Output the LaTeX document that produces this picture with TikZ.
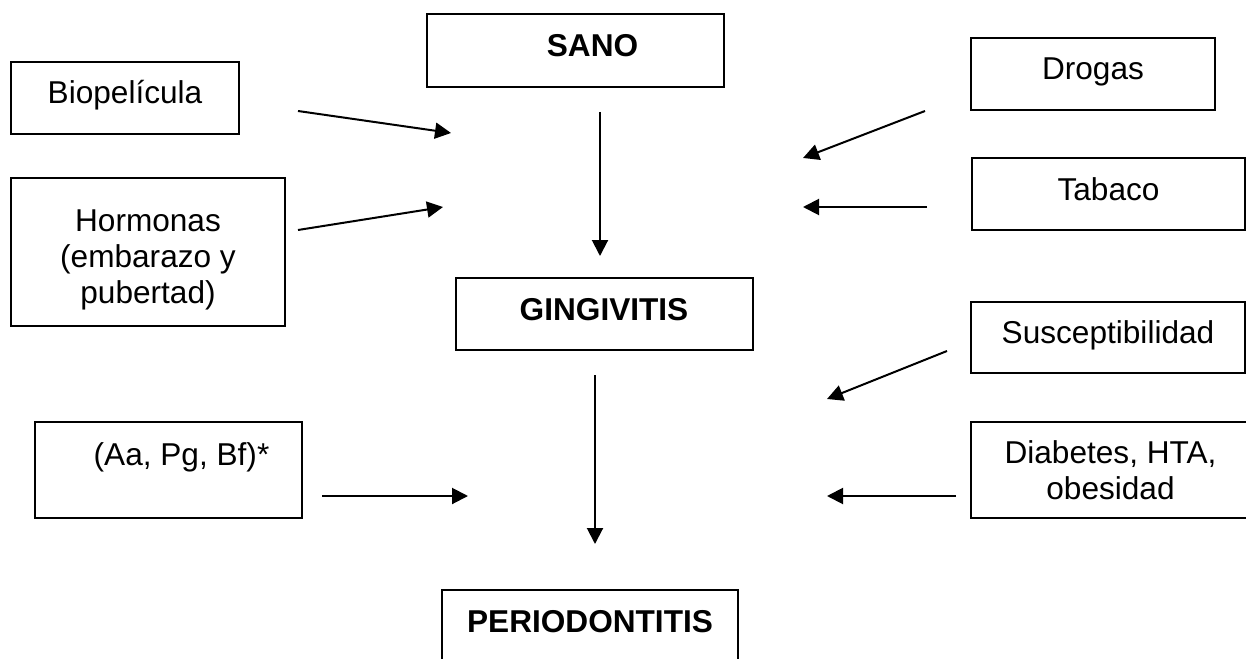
\documentclass[tikz,border=0pt]{standalone}
\usepackage{fontspec}
\setmainfont{Liberation Sans}
\usetikzlibrary{arrows.meta,positioning}

\begin{document}
\begin{tikzpicture}[
    x=0.5pt, y=-0.5pt,
    factorbox/.style={rectangle, draw=black, line width=1pt, inner sep=0pt, align=center, font=\fontsize{15.8pt}{18pt}\selectfont},
    stagebox/.style={factorbox, font=\fontsize{15.8pt}{18pt}\selectfont\bfseries},
    oneline/.style={text height=11pt, text depth=5pt},
    arrow/.style={line width=1pt, -{Triangle[length=8pt,width=8pt]}}
]
\useasboundingbox (0,0) rectangle (1246,658);

% Stages
\node[stagebox, oneline, minimum width=148.5pt, minimum height=36.5pt] (sano) at (575.5,50.5) {\hspace*{17pt}SANO};
\node[stagebox, oneline, minimum width=148.5pt, minimum height=36pt] (ging) at (604,314) {GINGIVITIS};
\node[stagebox, oneline, minimum width=148pt, minimum height=36pt] (perio) at (590,626) {PERIODONTITIS};

% Factors on the left
\node[factorbox, oneline, minimum width=114pt, minimum height=36pt] (bio) at (125,98) {Biopelícula};
\node[factorbox, minimum width=137pt, minimum height=74pt] (horm) at (148,252) {\rule{0pt}{19pt}Hormonas\\(embarazo y\\pubertad)};
\node[factorbox, text height=11pt, text depth=16pt, minimum width=133.5pt, minimum height=48pt] (aa) at (168.5,470) {\hspace*{13pt}(Aa, Pg, Bf)*};

% Factors on the right
\node[factorbox, oneline, minimum width=122pt, minimum height=36pt] (drog) at (1093,74) {Drogas};
\node[factorbox, oneline, minimum width=136.5pt, minimum height=36pt] (taba) at (1108.5,194) {Tabaco};
\node[factorbox, oneline, minimum width=137pt, minimum height=35.5pt] (susc) at (1108,337.5) {Susceptibilidad};
\node[factorbox, minimum width=139.5pt, minimum height=48pt] (diab) at (1110.5,470) {Diabetes, HTA,\\obesidad};

% Arrow ends
\coordinate (bioA) at (298,111);   \coordinate (bioB) at (451,133);
\coordinate (hormA) at (298,230);  \coordinate (hormB) at (443,207);
\coordinate (aaA) at (322,496);    \coordinate (aaB) at (468,496);
\coordinate (drogA) at (925,111);  \coordinate (drogB) at (803,158);
\coordinate (tabaA) at (927,207);  \coordinate (tabaB) at (803,207);
\coordinate (suscA) at (947,351);  \coordinate (suscB) at (827,399);
\coordinate (diabA) at (956,496);  \coordinate (diabB) at (827,496);
\coordinate (sanoA) at (600,112);  \coordinate (sanoB) at (600,256);
\coordinate (gingA) at (595,375);  \coordinate (gingB) at (595,544);

% Arrows
\draw[arrow] (bioA) -- (bioB);
\draw[arrow] (hormA) -- (hormB);
\draw[arrow] (aaA) -- (aaB);
\draw[arrow] (drogA) -- (drogB);
\draw[arrow] (tabaA) -- (tabaB);
\draw[arrow] (suscA) -- (suscB);
\draw[arrow] (diabA) -- (diabB);
\draw[arrow] (sanoA) -- (sanoB);
\draw[arrow] (gingA) -- (gingB);

\end{tikzpicture}
\end{document}
